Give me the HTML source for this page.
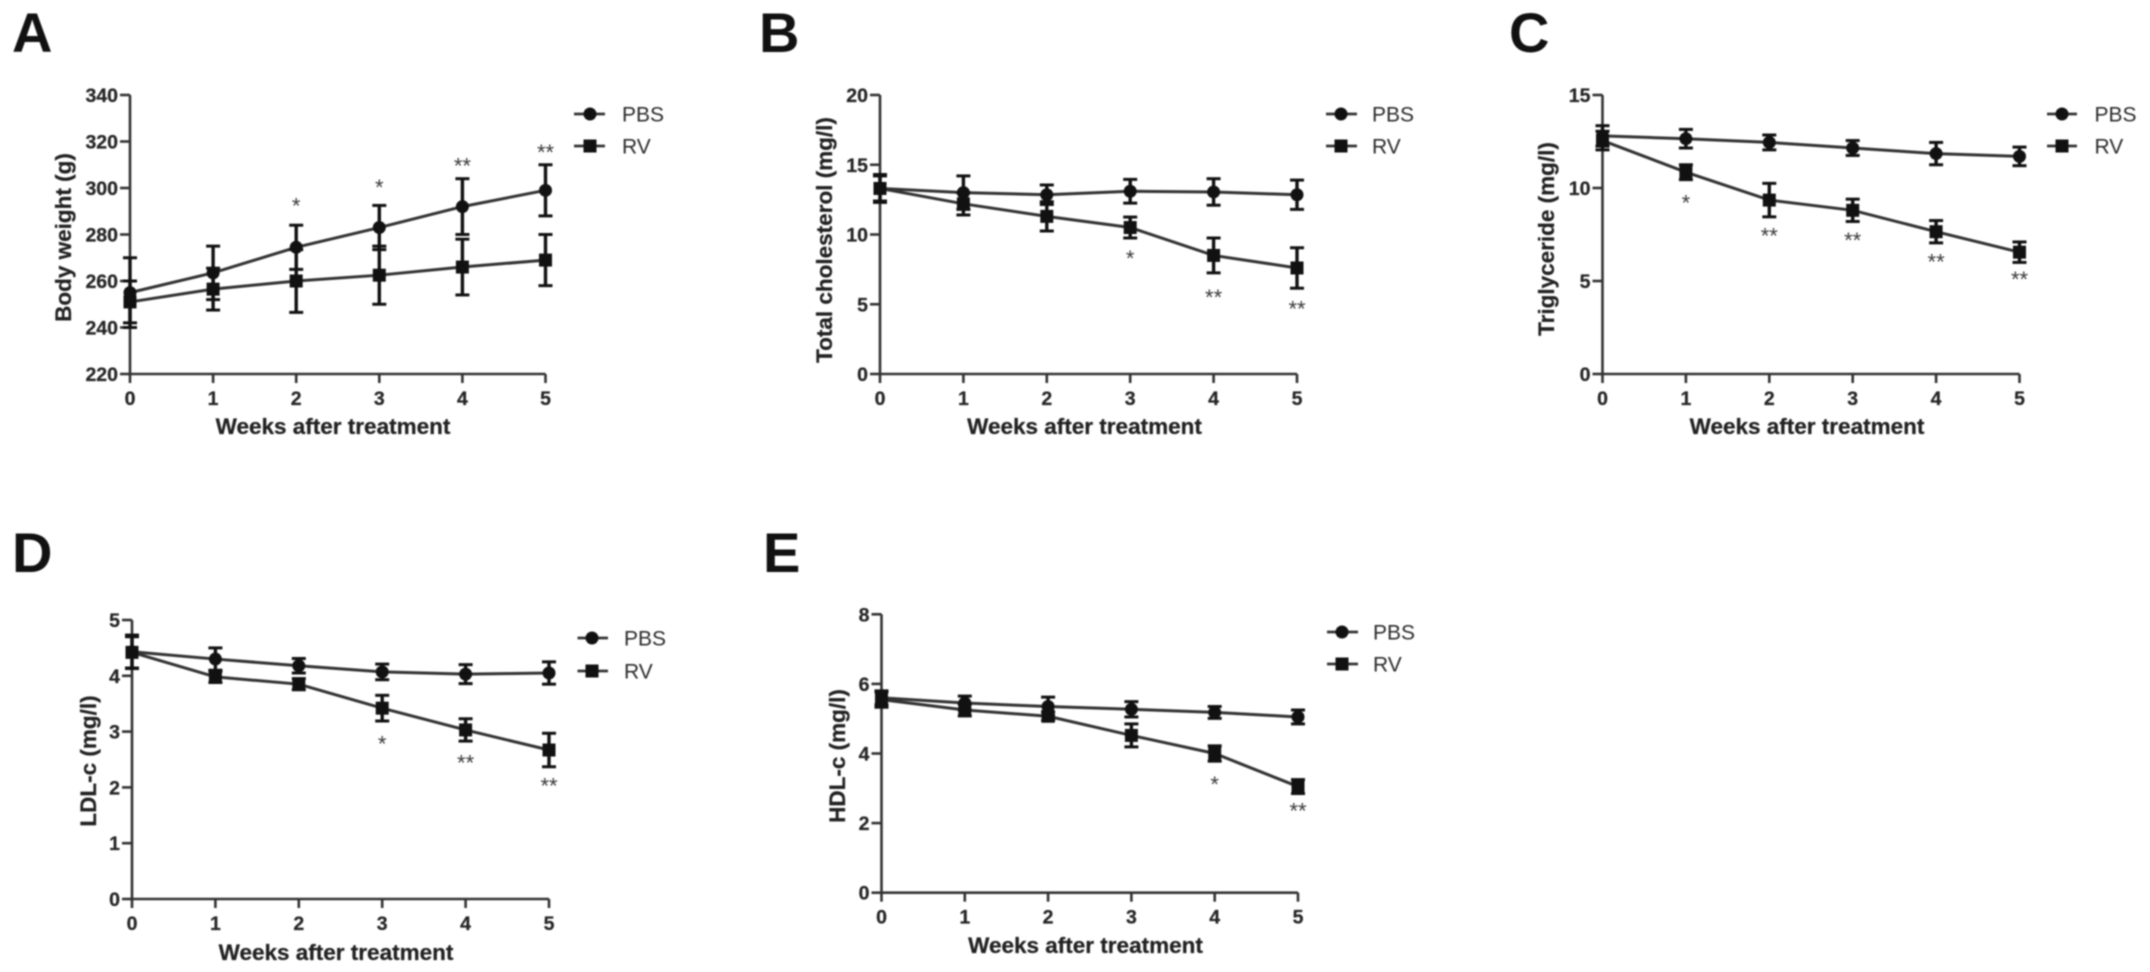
<!DOCTYPE html>
<html lang="en">
<head>
<meta charset="utf-8">
<title>Weekly measurements after treatment: PBS vs RV</title>
<style>
  html, body { margin: 0; padding: 0; background: #fff; }
  #figure { display: block; width: 2150px; height: 972px; filter: blur(0.7px); font-family: "Liberation Sans", sans-serif; }
  .panel-letter { font-size: 56px; font-weight: 700; fill: #111; }
  .axis-title { font-size: 22.5px; font-weight: 700; fill: #222; text-anchor: middle; stroke: #222; stroke-width: 0.25; }
  .tick-label { font-size: 19.5px; font-weight: 700; fill: #262626; stroke: #262626; stroke-width: 0.25; }
  .legend-text { font-size: 21px; fill: #2b2b2b; }
  .star { font-size: 22px; fill: #3a3a3a; text-anchor: middle; }
  .legend-line { stroke: #333; stroke-width: 2.8; }
  .legend-mark { fill: #111; }
</style>
</head>
<body>
<svg id="figure" xmlns="http://www.w3.org/2000/svg" width="2150" height="972" viewBox="0 0 2150 972">
  <rect width="2150" height="972" fill="#fff"/>

  <g id="panel-a">
    <text class="panel-letter" x="12" y="52">A</text>
    <text class="axis-title" x="333" y="434">Weeks after treatment</text>
    <text class="axis-title" transform="translate(71 237.5) rotate(-90)">Body weight (g)</text>
    <g>
      <g>
        <line class="legend-line" x1="574" x2="605" y1="114" y2="114"/><circle class="legend-mark" cx="590" cy="114" r="6.5"/>
        <text class="legend-text" x="622" y="121.5">PBS</text>
      </g>
      <g>
        <line class="legend-line" x1="574" x2="605" y1="146" y2="146"/><rect class="legend-mark" x="583.5" y="139.5" width="13" height="13"/>
        <text class="legend-text" x="622" y="153.5">RV</text>
      </g>
    </g>
  </g>

  <g id="panel-b">
    <text class="panel-letter" x="759" y="52">B</text>
    <text class="axis-title" x="1084.5" y="434">Weeks after treatment</text>
    <text class="axis-title" transform="translate(832 240) rotate(-90)">Total cholesterol (mg/l)</text>
    <g>
      <g>
        <line class="legend-line" x1="1326" x2="1357" y1="114" y2="114"/><circle class="legend-mark" cx="1341" cy="114" r="6.5"/>
        <text class="legend-text" x="1372" y="121.5">PBS</text>
      </g>
      <g>
        <line class="legend-line" x1="1326" x2="1357" y1="146" y2="146"/><rect class="legend-mark" x="1334.5" y="139.5" width="13" height="13"/>
        <text class="legend-text" x="1372" y="153.5">RV</text>
      </g>
    </g>
  </g>

  <g id="panel-c">
    <text class="panel-letter" x="1509" y="52">C</text>
    <text class="axis-title" x="1807" y="434">Weeks after treatment</text>
    <text class="axis-title" transform="translate(1554 239) rotate(-90)">Triglyceride (mg/l)</text>
    <g>
      <g>
        <line class="legend-line" x1="2047" x2="2077" y1="114" y2="114"/><circle class="legend-mark" cx="2062" cy="114" r="6.5"/>
        <text class="legend-text" x="2094.5" y="121.5">PBS</text>
      </g>
      <g>
        <line class="legend-line" x1="2047" x2="2077" y1="146" y2="146"/><rect class="legend-mark" x="2055.5" y="139.5" width="13" height="13"/>
        <text class="legend-text" x="2094.5" y="153.5">RV</text>
      </g>
    </g>
  </g>

  <g id="panel-d">
    <text class="panel-letter" x="12" y="572">D</text>
    <text class="axis-title" x="336" y="960">Weeks after treatment</text>
    <text class="axis-title" transform="translate(96 761) rotate(-90)">LDL-c (mg/l)</text>
    <g>
      <g>
        <line class="legend-line" x1="577.5" x2="608" y1="638" y2="638"/><circle class="legend-mark" cx="592" cy="638" r="6.5"/>
        <text class="legend-text" x="624" y="645.5">PBS</text>
      </g>
      <g>
        <line class="legend-line" x1="577.5" x2="608" y1="671" y2="671"/><rect class="legend-mark" x="585.5" y="664.5" width="13" height="13"/>
        <text class="legend-text" x="624" y="678.5">RV</text>
      </g>
    </g>
  </g>

  <g id="panel-e">
    <text class="panel-letter" x="763" y="572">E</text>
    <text class="axis-title" x="1085.5" y="953">Weeks after treatment</text>
    <text class="axis-title" transform="translate(845 756) rotate(-90)">HDL-c (mg/l)</text>
    <g>
      <g>
        <line class="legend-line" x1="1327" x2="1358" y1="632" y2="632"/><circle class="legend-mark" cx="1342" cy="632" r="6.5"/>
        <text class="legend-text" x="1373" y="639.5">PBS</text>
      </g>
      <g>
        <line class="legend-line" x1="1327" x2="1358" y1="664" y2="664"/><rect class="legend-mark" x="1335.5" y="657.5" width="13" height="13"/>
        <text class="legend-text" x="1373" y="671.5">RV</text>
      </g>
    </g>
  </g>
</svg>

<script>
const weeks = [0, 1, 2, 3, 4, 5];

const panelATicks = [220, 240, 260, 280, 300, 320, 340];
const panelAPbs = [255, 263.5, 274.5, 283, 292, 299];
const panelAPbsErr = [15, 11.5, 9.5, 9.5, 12, 11];
const panelARv = [251, 256.5, 260, 262.5, 266, 269];
const panelARvErr = [9, 9, 13.5, 12.5, 12, 11];
const panelAStarWeeks = [2, 3, 4, 5];
const panelAStarLevels = [293.5, 301.3, 310.6, 316.4];
const panelAStarLabels = ['*', '*', '**', '**'];

const panelBTicks = [0, 5, 10, 15, 20];
const panelBPbs = [13.3, 13.0, 12.85, 13.1, 13.05, 12.85];
const panelBPbsErr = [1, 1.2, 0.7, 0.85, 0.95, 1.05];
const panelBRv = [13.3, 12.2, 11.3, 10.5, 8.5, 7.6];
const panelBRvErr = [0.9, 0.8, 1.05, 0.75, 1.25, 1.45];
const panelBStarWeeks = [3, 4, 5];
const panelBStarLevels = [8.46, 5.66, 4.87];
const panelBStarLabels = ['*', '**', '**'];

const panelCTicks = [0, 5, 10, 15];
const panelCPbs = [12.8, 12.65, 12.45, 12.15, 11.85, 11.7];
const panelCPbsErr = [0.55, 0.5, 0.4, 0.4, 0.6, 0.5];
const panelCRv = [12.55, 10.85, 9.35, 8.8, 7.65, 6.55];
const panelCRvErr = [0.5, 0.4, 0.9, 0.6, 0.6, 0.55];
const panelCStarWeeks = [1, 2, 3, 4, 5];
const panelCStarLevels = [9.35, 7.56, 7.33, 6.16, 5.23];
const panelCStarLabels = ['*', '**', '**', '**', '**'];

const panelDTicks = [0, 1, 2, 3, 4, 5];
const panelDPbs = [4.43, 4.3, 4.18, 4.07, 4.03, 4.05];
const panelDPbsErr = [0.3, 0.2, 0.13, 0.14, 0.17, 0.2];
const panelDRv = [4.42, 3.98, 3.85, 3.42, 3.03, 2.67];
const panelDRvErr = [0.28, 0.1, 0.1, 0.23, 0.2, 0.3];
const panelDStarWeeks = [3, 4, 5];
const panelDStarLevels = [2.83, 2.49, 2.07];
const panelDStarLabels = ['*', '**', '**'];

const panelETicks = [0, 2, 4, 6, 8];
const panelEPbs = [5.6, 5.45, 5.35, 5.27, 5.18, 5.05];
const panelEPbsErr = [0.2, 0.2, 0.27, 0.22, 0.17, 0.2];
const panelERv = [5.55, 5.25, 5.07, 4.52, 4.0, 3.05];
const panelERvErr = [0.22, 0.17, 0.12, 0.33, 0.22, 0.2];
const panelEStarWeeks = [4, 5];
const panelEStarLevels = [3.19, 2.42];
const panelEStarLabels = ['*', '**'];

const SVG_NS = 'http://www.w3.org/2000/svg';
const AXIS_COLOR = '#333';
const MARK_COLOR = '#111';

function make(parent, tag, props) {
  const el = document.createElementNS(SVG_NS, tag);
  for (const key in props) {
    el.setAttribute(key, props[key]);
  }
  parent.appendChild(el);
  return el;
}

function drawSeries(root, name, marker, means, errs, xScale, yScale) {
  const group = make(root, 'g', {});
  
  

  const points = means.map((v, i) => xScale(weeks[i]) + ',' + yScale(v)).join(' ');
  const line = make(group, 'polyline', { points: points, fill: 'none', stroke: AXIS_COLOR, 'stroke-width': 3 });
  
  

  means.forEach((v, i) => {
    const x = xScale(weeks[i]);
    const hi = yScale(v + errs[i]);
    const lo = yScale(v - errs[i]);

    const stem = make(group, 'line', { x1: x, x2: x, y1: hi, y2: lo, stroke: MARK_COLOR, 'stroke-width': 3.4 });
    
    

    const capTop = make(group, 'line', { x1: x - 7, x2: x + 7, y1: hi, y2: hi, stroke: MARK_COLOR, 'stroke-width': 3 });
    
    

    const capBottom = make(group, 'line', { x1: x - 7, x2: x + 7, y1: lo, y2: lo, stroke: MARK_COLOR, 'stroke-width': 3 });
    
    

    let point;
    if (marker === 'circle') {
      point = make(group, 'circle', { cx: x, cy: yScale(v), r: 6.5, fill: MARK_COLOR });
    } else {
      point = make(group, 'rect', { x: x - 6.5, y: yScale(v) - 6.5, width: 13, height: 13, fill: MARK_COLOR });
    }
    
    
  });
}

function drawPanel(id, box, ticks, pbs, pbsErr, rv, rvErr, starWeeks, starLevels, starLabels) {
  const root = document.getElementById(id);
  const yMin = ticks[0];
  const yMax = ticks[ticks.length - 1];
  const xScale = w => box.left + (w - weeks[0]) / (weeks[weeks.length - 1] - weeks[0]) * (box.right - box.left);
  const yScale = v => box.bottom - (v - yMin) / (yMax - yMin) * (box.bottom - box.top);

  const yAxis = make(root, 'line', { x1: box.left, x2: box.left, y1: box.top, y2: box.bottom, stroke: AXIS_COLOR, 'stroke-width': 2.6 });
  
  

  const xAxis = make(root, 'line', { x1: box.left, x2: box.right, y1: box.bottom, y2: box.bottom, stroke: AXIS_COLOR, 'stroke-width': 2.6 });
  
  

  ticks.forEach(t => {
    const y = yScale(t);
    const mark = make(root, 'line', { x1: box.left - 10, x2: box.left, y1: y, y2: y, stroke: AXIS_COLOR, 'stroke-width': 2.6 });
    
    

    const label = make(root, 'text', { class: 'tick-label', x: box.left - 12, y: y + 7, 'text-anchor': 'end' });
    
    
    label.textContent = t;
  });

  weeks.forEach(w => {
    const x = xScale(w);
    const mark = make(root, 'line', { x1: x, x2: x, y1: box.bottom, y2: box.bottom + 9, stroke: AXIS_COLOR, 'stroke-width': 2.6 });
    
    

    const label = make(root, 'text', { class: 'tick-label', x: x, y: box.bottom + 31, 'text-anchor': 'middle' });
    
    
    label.textContent = w;
  });

  drawSeries(root, 'pbs', 'circle', pbs, pbsErr, xScale, yScale);
  drawSeries(root, 'rv', 'square', rv, rvErr, xScale, yScale);

  starWeeks.forEach((w, i) => {
    const star = make(root, 'text', { class: 'star', x: xScale(w), y: yScale(starLevels[i]) + 10.2 });
    
    
    star.textContent = starLabels[i];
  });
}

drawPanel('panel-a', { left: 130, right: 545.5, top: 95, bottom: 374 }, panelATicks, panelAPbs, panelAPbsErr, panelARv, panelARvErr, panelAStarWeeks, panelAStarLevels, panelAStarLabels);
drawPanel('panel-b', { left: 880, right: 1297, top: 95, bottom: 374 }, panelBTicks, panelBPbs, panelBPbsErr, panelBRv, panelBRvErr, panelBStarWeeks, panelBStarLevels, panelBStarLabels);
drawPanel('panel-c', { left: 1602.5, right: 2019.5, top: 95, bottom: 374 }, panelCTicks, panelCPbs, panelCPbsErr, panelCRv, panelCRvErr, panelCStarWeeks, panelCStarLevels, panelCStarLabels);
drawPanel('panel-d', { left: 132, right: 549, top: 620, bottom: 899 }, panelDTicks, panelDPbs, panelDPbsErr, panelDRv, panelDRvErr, panelDStarWeeks, panelDStarLevels, panelDStarLabels);
drawPanel('panel-e', { left: 881.5, right: 1298, top: 614.3, bottom: 892.7 }, panelETicks, panelEPbs, panelEPbsErr, panelERv, panelERvErr, panelEStarWeeks, panelEStarLevels, panelEStarLabels);
</script>
</body>
</html>
